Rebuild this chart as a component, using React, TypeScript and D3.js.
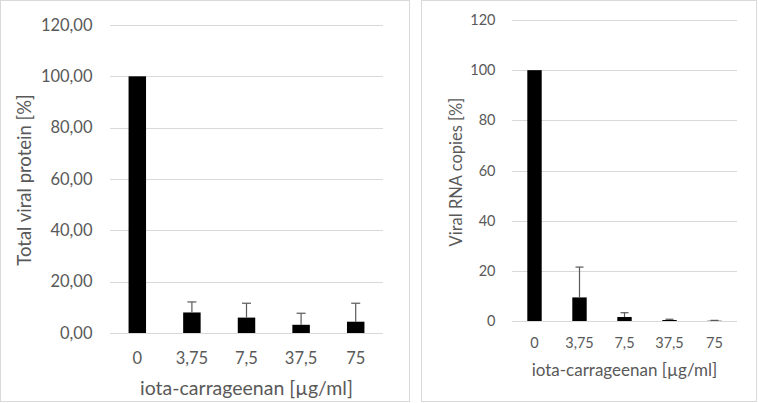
import { useEffect, useRef } from "react";
import * as d3 from "d3";

const categories = ["0", "3,75", "7,5", "37,5", "75"];

const proteinValues = [100, 8.0, 6.0, 3.2, 4.4];
const proteinErrors = [0, 4.1, 5.6, 4.5, 7.2];
const proteinTicks = [0, 20, 40, 60, 80, 100, 120];

const rnaValues = [100, 9.4, 1.6, 0.4, 0.1];
const rnaErrors = [0, 12.1, 1.7, 0.3, 0.15];
const rnaTicks = [0, 20, 40, 60, 80, 100, 120];

const xTitle = "iota-carrageenan [µg/ml]";

interface PanelProps {
  values: number[];
  errors: number[];
  ticks: number[];
  tickFormat: (v: number) => string;
  yTitle: string;
  box: { x: number; y: number; w: number; h: number };
  plot: { x0: number; x1: number; y0: number; y1: number };
  tickSize: number;
  xTitleSize: number;
  yTitleSize: number;
  tickGap: number;
  yTitleX: number;
  yTitleY: number;
  xTickY: number;
  xTitleY: number;
  capW: number;
}

function drawPanel(svgEl: SVGSVGElement, p: PanelProps) {
  const svg = d3.select(svgEl);
  const g = svg.append("g");
  const font = "Lato, 'Open Sans', sans-serif";
  const textColor = "#595959";

  g.append("rect")
    .attr("x", p.box.x + 0.5)
    .attr("y", p.box.y + 0.5)
    .attr("width", p.box.w)
    .attr("height", p.box.h)
    .attr("fill", "white")
    .attr("stroke", "#d9d9d9");

  const x = d3
    .scaleBand<string>()
    .domain(categories)
    .range([p.plot.x0, p.plot.x1])
    .paddingInner(0.68)
    .paddingOuter(0.34);

  const y = d3
    .scaleLinear()
    .domain([0, d3.max(p.ticks) as number])
    .range([p.plot.y1, p.plot.y0]);

  const rows = categories.map((c, i) => ({
    cat: c,
    value: p.values[i],
    err: p.errors[i],
  }));
  const cx = (c: string) => (x(c) as number) + x.bandwidth() / 2;

  // gridlines
  g.selectAll(".grid")
    .data(p.ticks)
    .enter()
    .append("line")
    .attr("x1", p.plot.x0)
    .attr("x2", p.plot.x1)
    .attr("y1", (d) => Math.round(y(d)) + 0.5)
    .attr("y2", (d) => Math.round(y(d)) + 0.5)
    .attr("stroke", "#d9d9d9")
    .attr("stroke-width", 1);

  // y tick labels
  g.selectAll(".ytick")
    .data(p.ticks)
    .enter()
    .append("text")
    .attr("x", p.plot.x0 - p.tickGap)
    .attr("y", (d) => y(d))
    .attr("dy", "0.35em")
    .attr("text-anchor", "end")
    .attr("font-family", font)
    .attr("font-size", p.tickSize)
    .attr("fill", textColor)
    .text((d) => p.tickFormat(d));

  // bars
  g.selectAll(".bar")
    .data(rows)
    .enter()
    .append("rect")
    .attr("x", (d) => x(d.cat) as number)
    .attr("y", (d) => y(d.value))
    .attr("width", x.bandwidth())
    .attr("height", (d) => p.plot.y1 - y(d.value))
    .attr("fill", "#000");

  // error bars (upper only)
  const eb = g
    .selectAll(".err")
    .data(rows.filter((d) => d.err > 0))
    .enter()
    .append("g");

  eb.append("line")
    .attr("x1", (d) => cx(d.cat))
    .attr("x2", (d) => cx(d.cat))
    .attr("y1", (d) => y(d.value))
    .attr("y2", (d) => y(d.value + d.err))
    .attr("stroke", "#595959")
    .attr("stroke-width", 1.2);

  eb.append("line")
    .attr("x1", (d) => cx(d.cat) - p.capW / 2)
    .attr("x2", (d) => cx(d.cat) + p.capW / 2)
    .attr("y1", (d) => y(d.value + d.err))
    .attr("y2", (d) => y(d.value + d.err))
    .attr("stroke", "#595959")
    .attr("stroke-width", 1.2);

  // x tick labels
  g.selectAll(".xtick")
    .data(categories)
    .enter()
    .append("text")
    .attr("x", (d) => cx(d))
    .attr("y", p.xTickY)
    .attr("dy", "0.35em")
    .attr("text-anchor", "middle")
    .attr("font-family", font)
    .attr("font-size", p.tickSize)
    .attr("fill", textColor)
    .text((d) => d);

  // axis titles
  g.append("text")
    .attr("x", (p.plot.x0 + p.plot.x1) / 2)
    .attr("y", p.xTitleY)
    .attr("dy", "0.35em")
    .attr("text-anchor", "middle")
    .attr("font-family", font)
    .attr("font-size", p.xTitleSize)
    .attr("fill", textColor)
    .text(xTitle);

  g.append("text")
    .attr("transform", `translate(${p.yTitleX},${p.yTitleY}) rotate(-90)`)
    .attr("dy", "0.35em")
    .attr("text-anchor", "middle")
    .attr("font-family", font)
    .attr("font-size", p.yTitleSize)
    .attr("fill", textColor)
    .text(p.yTitle);
}

export default function App() {
  const svgRef = useRef<SVGSVGElement>(null);

  useEffect(() => {
    if (!svgRef.current) return;
    d3.select(svgRef.current).selectAll("*").remove();

    d3.select(svgRef.current)
      .append("rect")
      .attr("width", 758)
      .attr("height", 403)
      .attr("fill", "white");

    drawPanel(svgRef.current, {
      values: proteinValues,
      errors: proteinErrors,
      ticks: proteinTicks,
      tickFormat: (v) => d3.format(".2f")(v).replace(".", ","),
      yTitle: "Total viral protein [%]",
      box: { x: 0, y: 0, w: 409, h: 401 },
      plot: { x0: 110, x1: 383, y0: 25, y1: 333 },
      tickSize: 16.5,
      xTitleSize: 19.5,
      yTitleSize: 18.5,
      tickGap: 17.5,
      yTitleX: 25,
      yTitleY: 180,
      xTickY: 358,
      xTitleY: 388,
      capW: 9,
    });

    drawPanel(svgRef.current, {
      values: rnaValues,
      errors: rnaErrors,
      ticks: rnaTicks,
      tickFormat: (v) => String(v),
      yTitle: "Viral RNA copies [%]",
      box: { x: 421, y: 0, w: 335, h: 401 },
      plot: { x0: 512, x1: 737, y0: 20, y1: 321 },
      tickSize: 14.5,
      xTitleSize: 17,
      yTitleSize: 16.5,
      tickGap: 16.5,
      yTitleX: 456,
      yTitleY: 172,
      xTickY: 343,
      xTitleY: 370,
      capW: 8,
    });
  }, []);

  return (
    <svg
      ref={svgRef}
      width={758}
      height={403}
      viewBox="0 0 758 403"
      style={{ position: "absolute", left: 0, top: 0 }}
    />
  );
}
